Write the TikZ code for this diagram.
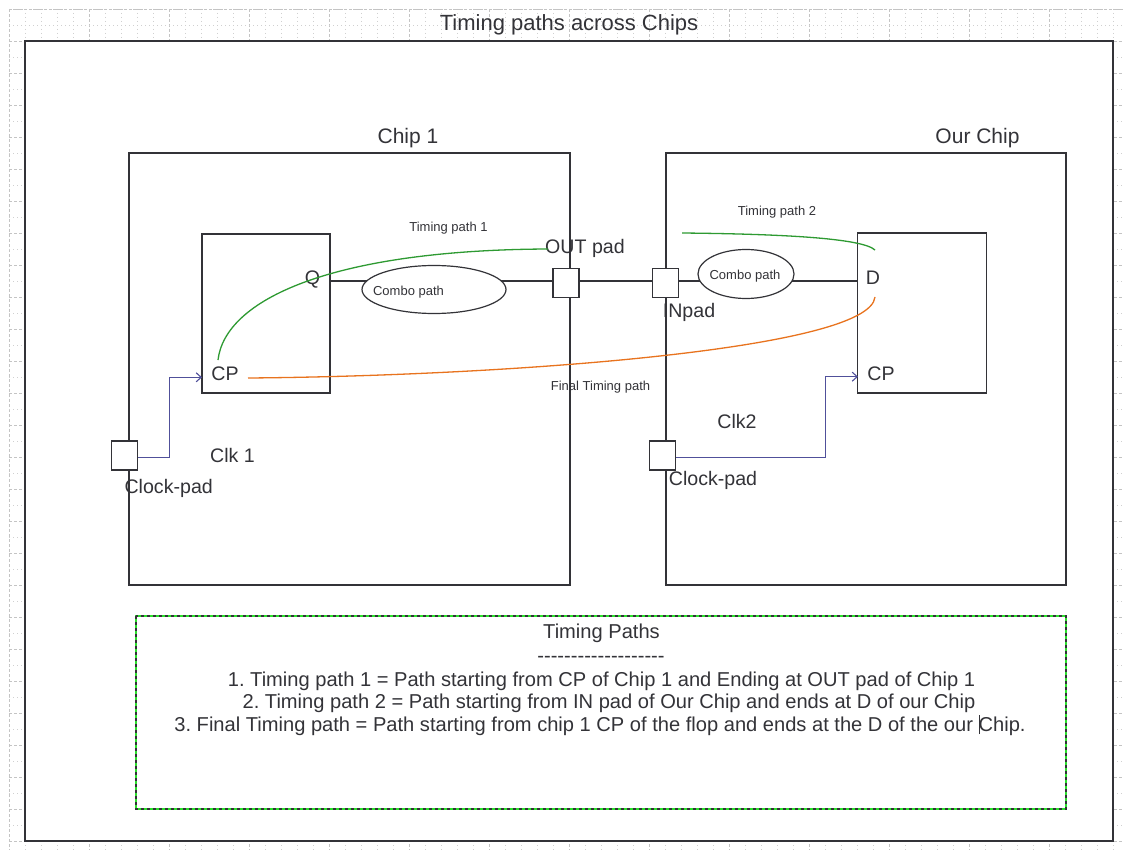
\documentclass[tikz,border=0pt]{standalone}
\usepackage{fontspec}
\setmainfont{Liberation Sans}
\usetikzlibrary{shapes.geometric,arrows.meta}
\pgfdeclarelayer{sheet}
\pgfdeclarelayer{wires}
\pgfsetlayers{sheet,wires,main}
\frenchspacing

\definecolor{ink}{HTML}{333338}
\definecolor{pathgreen}{HTML}{2E9A32}
\definecolor{pathorange}{HTML}{E8731E}
\definecolor{clkblue}{HTML}{50509A}
\definecolor{gridgray}{HTML}{C4C4C4}
\definecolor{boxgreen}{HTML}{2BE02B}

\tikzset{
  x=1pt, y=-1pt,
  big/.style={font=\fontsize{21}{25}\selectfont, text=ink, inner sep=0pt, anchor=base},
  mid/.style={font=\fontsize{19.6}{23}\selectfont, text=ink, inner sep=0pt, anchor=base},
  legend/.style={font=\fontsize{20.1}{24}\selectfont, text=ink, inner sep=0pt, anchor=base},
  small/.style={font=\fontsize{13}{15}\selectfont, text=ink, inner sep=0pt, anchor=base},
  chipbox/.style={draw=ink, line width=1.3pt, rectangle, inner sep=0pt},
  flopbox/.style={draw=ink, line width=1.3pt, rectangle, fill=white, inner sep=0pt,
                  minimum width=128pt, minimum height=159pt},
  padbox/.style={draw=ink, line width=1.3pt, rectangle, fill=white, inner sep=0pt,
                 minimum width=26pt, minimum height=29pt},
  combo/.style={draw=ink, line width=1.2pt, ellipse, fill=white, inner sep=0pt},
  wire/.style={draw=ink, line width=1.2pt},
  clkwire/.style={draw=clkblue, line width=1.1pt, -{Straight Barb[length=5pt,width=9pt]}},
  tpath/.style={line width=1.3pt}
}

\begin{document}
\begin{tikzpicture}
\useasboundingbox (0,0) rectangle (1124,850);

% drawing sheet with its dotted grid
\begin{pgfonlayer}{sheet}
  \fill[white] (0,0) rectangle (1124,850);
  \foreach \k in {0,...,69} {
    \pgfmathtruncatemacro{\gx}{9+16*\k}
    \pgfmathtruncatemacro{\maj}{mod(\k,5)}
    \ifnum\maj=0
      \draw[gridgray, line width=0.8pt, dash pattern=on 3pt off 2pt] (\gx,9) -- (\gx,850);
    \else
      \draw[gridgray!80, line width=0.8pt, dash pattern=on 1pt off 3pt] (\gx,9) -- (\gx,850);
    \fi
  }
  \foreach \k in {0,...,52} {
    \pgfmathtruncatemacro{\gy}{9+16*\k}
    \pgfmathtruncatemacro{\maj}{mod(\k,2)}
    \ifnum\maj=0
      \draw[gridgray, line width=0.8pt, dash pattern=on 3pt off 2pt] (9,\gy) -- (1124,\gy);
    \else
      \draw[gridgray!80, line width=0.8pt, dash pattern=on 1pt off 3pt] (9,\gy) -- (1124,\gy);
    \fi
  }
  \draw[gridgray, line width=0.8pt, dash pattern=on 2pt off 2pt] (9,9) -- (1124,9);
  \fill[white] (25,41) rectangle (1113,841);
\end{pgfonlayer}

% page frame and title
\node[draw=ink, line width=1.8pt, rectangle, inner sep=0pt,
      minimum width=1088pt, minimum height=800pt] (frame) at (569,441) {};
\node[big, font=\fontsize{22}{26}\selectfont] (title) at (569,30.5) {Timing paths across Chips};

% the two chips
\node[chipbox, minimum width=441pt, minimum height=432pt] (chip1) at (349.5,369) {};
\node[chipbox, minimum width=400pt, minimum height=432pt] (chip2) at (866,369) {};
\node[big] (chip1lbl) at (408,143.5) {Chip 1};
\node[big] (chip2lbl) at (977.5,143.5) {Our Chip};

% flops
\node[flopbox] (flop1) at (266,313.5) {};
\node[flopbox, minimum width=129pt, minimum height=160pt] (flop2) at (922,313) {};

% pin points on the flops
\coordinate (qpin) at (330,281);
\coordinate (dpin) at (858,281);
\coordinate (cp1pin) at (202,377.3);
\coordinate (cp2pin) at (858,376.7);

% data wire Q -> D, drawn under the pads and combo clouds
\begin{pgfonlayer}{wires}
  \draw[wire] (qpin) -- (dpin);
\end{pgfonlayer}

% pads
\node[padbox] (outpad) at (566,283) {};
\node[padbox] (inpad) at (665.7,283) {};
\node[padbox] (clkpad1) at (124.7,455.5) {};
\node[padbox] (clkpad2) at (662.5,455.5) {};

% combinational logic clouds
\node[combo, minimum width=144pt, minimum height=48pt] (combo1) at (434,289.5) {};
\node[combo, minimum width=96pt, minimum height=49pt] (combo2) at (746,274) {};
\node[small] (combo1lbl) at (408.5,295.7) {Combo path};
\node[small] (combo2lbl) at (745,279.7) {Combo path};

% clock wires
\draw[clkwire] (clkpad1.east |- 0,457.5) -- (169.3,457.5) |- (cp1pin);
\draw[clkwire] (clkpad2.east |- 0,457.3) -- (825.7,457.3) |- (cp2pin);

% pin and pad labels
\node[mid] (qlbl) at (312.5,285) {Q};
\node[mid] (cp1lbl) at (225,380.3) {CP};
\node[mid] (dlbl) at (873,285) {D};
\node[mid] (cp2lbl) at (881,380) {CP};
\node[mid] (outpadlbl) at (585,253.5) {OUT pad};
\node[mid] (inpadlbl) at (689,317.7) {INpad};
\node[mid] (clk1lbl) at (232.5,462) {Clk 1};
\node[mid] (clk2lbl) at (737,428.7) {Clk2};
\node[mid] (clkpad1lbl) at (168.7,493.7) {Clock-pad};
\node[mid] (clkpad2lbl) at (713,485.3) {Clock-pad};

% timing path annotations
\coordinate (tp1s) at (218,360);
\coordinate (tp1e) at (548,249);
\coordinate (tp2s) at (682,233);
\coordinate (tp2e) at (875,250);
\coordinate (tpfs) at (248,378);
\coordinate (tpfe) at (875,297);
\draw[tpath, pathgreen] (tp1s) .. controls (225,300) and (330,250) .. (tp1e);
\draw[tpath, pathgreen] (tp2s) .. controls (780,234) and (862,238) .. (tp2e);
\draw[tpath, pathorange] (tpfs) .. controls (500,376) and (870,350) .. (tpfe);
\node[small] (tp1lbl) at (448.5,231.4) {Timing path 1};
\node[small] (tp2lbl) at (777,215.7) {Timing path 2};
\node[small] (tpflbl) at (600.5,390.7) {Final Timing path};

% legend box
\draw[boxgreen, line width=1.3pt] (136,616) rectangle (1066,809);
\draw[ink, line width=1.3pt, dash pattern=on 3pt off 3pt] (136,616) rectangle (1066,809);
\node[legend] (legtitle) at (601.5,638.5) {Timing Paths};
\node[legend] (legrule) at (601,662) {-{}-{}-{}-{}-{}-{}-{}-{}-{}-{}-{}-{}-{}-{}-{}-{}-{}-{}-};
\node[legend] (leg1) at (601.5,686) {1. Timing path 1 = Path starting from CP of Chip 1 and Ending at OUT pad of Chip 1};
\node[legend] (leg2) at (609,708) {2. Timing path 2 = Path starting from IN pad of Our Chip and ends at D of our Chip};
\node[legend] (leg3) at (600,731) {3. Final Timing path = Path starting from chip 1 CP of the flop and ends at the D of the our \rule[-0.15em]{0.9pt}{0.95em}\kern-0.9pt Chip.};
\end{tikzpicture}
\end{document}
